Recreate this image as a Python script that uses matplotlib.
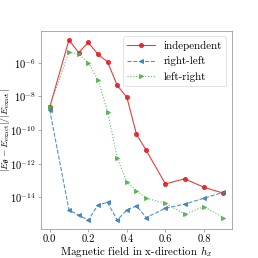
import numpy as np
import matplotlib
matplotlib.use('Agg')
import matplotlib.pyplot as plt

plt.rcParams['font.family'] = 'serif'
plt.rcParams['font.serif'] = ['cmr10']
plt.rcParams['mathtext.fontset'] = 'cm'
plt.rcParams['axes.formatter.use_mathtext'] = True
plt.rcParams['axes.unicode_minus'] = False

# magnetic field values
hx = [0.0, 0.1, 0.15, 0.2, 0.25, 0.3, 0.35, 0.4, 0.45, 0.5, 0.6, 0.7, 0.8, 0.9]

log_independent = [-8.65, -4.65, -5.4, -4.8, -5.5, -5.95, -7.35, -8.05, -10.25, -11.2, -13.2, -12.9, -13.4, -13.75]
log_right_left = [-8.8, -14.75, -15.05, -15.35, -14.45, -14.3, -15.35, -14.75, -14.5, -15.2, -14.65, -14.4, -14.05, -13.7]
log_left_right = [-8.65, -5.35, -5.5, -6.0, -7.0, -8.9, -11.65, -13.1, -13.6, -14.05, -14.35, -15.0, -14.55, -15.2]

red = '#e41a1c'
blue = '#377eb8'
green = '#4daf4a'
spine_col = '#999999'

fig = plt.figure(figsize=(258/72, 258/72), dpi=72)
ax = fig.add_axes([0.159, 0.112, 0.740, 0.768])

ax.semilogy(hx, 10.0**np.array(log_independent), '-o', color=red, ms=4, lw=1.1, alpha=0.85, label='independent')
ax.semilogy(hx, 10.0**np.array(log_right_left), '--<', color=blue, ms=4, lw=1.1, alpha=0.85, label='right-left')
ax.semilogy(hx, 10.0**np.array(log_left_right), ':>', color=green, ms=4, lw=1.1, alpha=0.85, label='left-right')

ax.set_xticks([0.0, 0.2, 0.4, 0.6, 0.8])
ax.set_xticklabels(['0.0', '0.2', '0.4', '0.6', '0.8'])
ax.set_yticks([1e-14, 1e-12, 1e-10, 1e-8, 1e-6])
ax.minorticks_off()
ax.tick_params(labelsize=10.5, color=spine_col, length=3, width=0.8, pad=2)
for s in ax.spines.values():
    s.set_color(spine_col)

ax.set_xlabel(r'Magnetic field in x-direction $h_x$', fontsize=11, labelpad=0)
ax.set_ylabel(r'$|E_{\boldsymbol{\theta}} - E_{\mathrm{exact}}|/|E_{\mathrm{exact}}|$', fontsize=9.5)
ax.xaxis.set_label_coords(0.5, -0.075)
ax.yaxis.set_label_coords(-0.15, 0.5)

leg = ax.legend(loc='upper right', fontsize=11, handlelength=2.5)
leg.get_frame().set_edgecolor('#dddddd')

fig.savefig('out.png', dpi=72)
